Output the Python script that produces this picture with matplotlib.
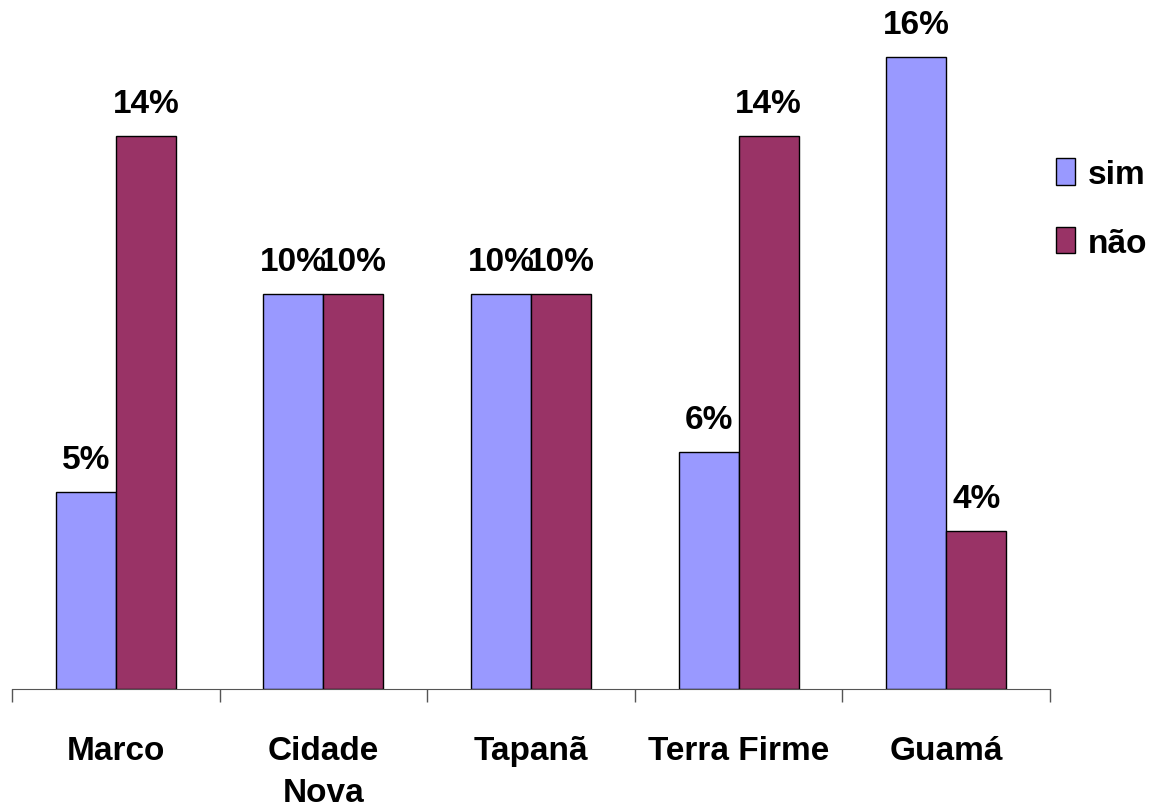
import numpy as np
import matplotlib.pyplot as plt

plt.rcParams['font.family'] = ['Liberation Sans', 'DejaVu Sans']

bairros = ['Marco', 'Cidade\nNova', 'Tapanã', 'Terra Firme', 'Guamá']
sim = [5, 10, 10, 6, 16]
nao = [14, 10, 10, 14, 4]

cor_sim = '#9999FF'
cor_nao = '#993366'

fig = plt.figure(figsize=(11.57, 8.12), dpi=100)
ax = fig.add_axes([12/1157, 122/812, 1038/1157, 671.5/812])

x = np.arange(len(bairros))
w = 0.289
b1 = ax.bar(x - w/2, sim, w, color=cor_sim, edgecolor='black', linewidth=1, label='sim')
b2 = ax.bar(x + w/2, nao, w, color=cor_nao, edgecolor='black', linewidth=1, label='não')

for bars, vals in ((b1, sim), (b2, nao)):
    for rect, v in zip(bars, vals):
        ax.annotate(f"{v}%", (rect.get_x() + rect.get_width()/2, rect.get_height()),
                    xytext=(0, 12), textcoords='offset points', ha='center', va='bottom',
                    fontsize=24, fontweight='bold')

ax.set_xlim(-0.5, len(bairros) - 0.5)
ax.set_ylim(0, 17)
for s in ('top', 'right', 'left'):
    ax.spines[s].set_visible(False)
ax.spines['bottom'].set_color('#555555')
ax.set_yticks([])

ax.set_xticks(x)
ax.set_xticklabels(bairros, fontsize=24, fontweight='bold', linespacing=1.45)
ax.tick_params(axis='x', which='major', length=0, pad=33)
ax.set_xticks(np.arange(len(bairros) + 1) - 0.5, minor=True)
ax.tick_params(axis='x', which='minor', length=9, width=1, color='#555555', direction='out')

fig.legend(handles=[b1, b2], labels=['sim', 'não'], loc='upper left',
           bbox_to_anchor=(1043/1157, 1 - 146/812), frameon=False,
           prop={'size': 24, 'weight': 'bold'}, handlelength=0.55, handleheight=0.85,
           handletextpad=0.4, labelspacing=1.1, borderaxespad=0)

fig.savefig('out.png', dpi=100)
